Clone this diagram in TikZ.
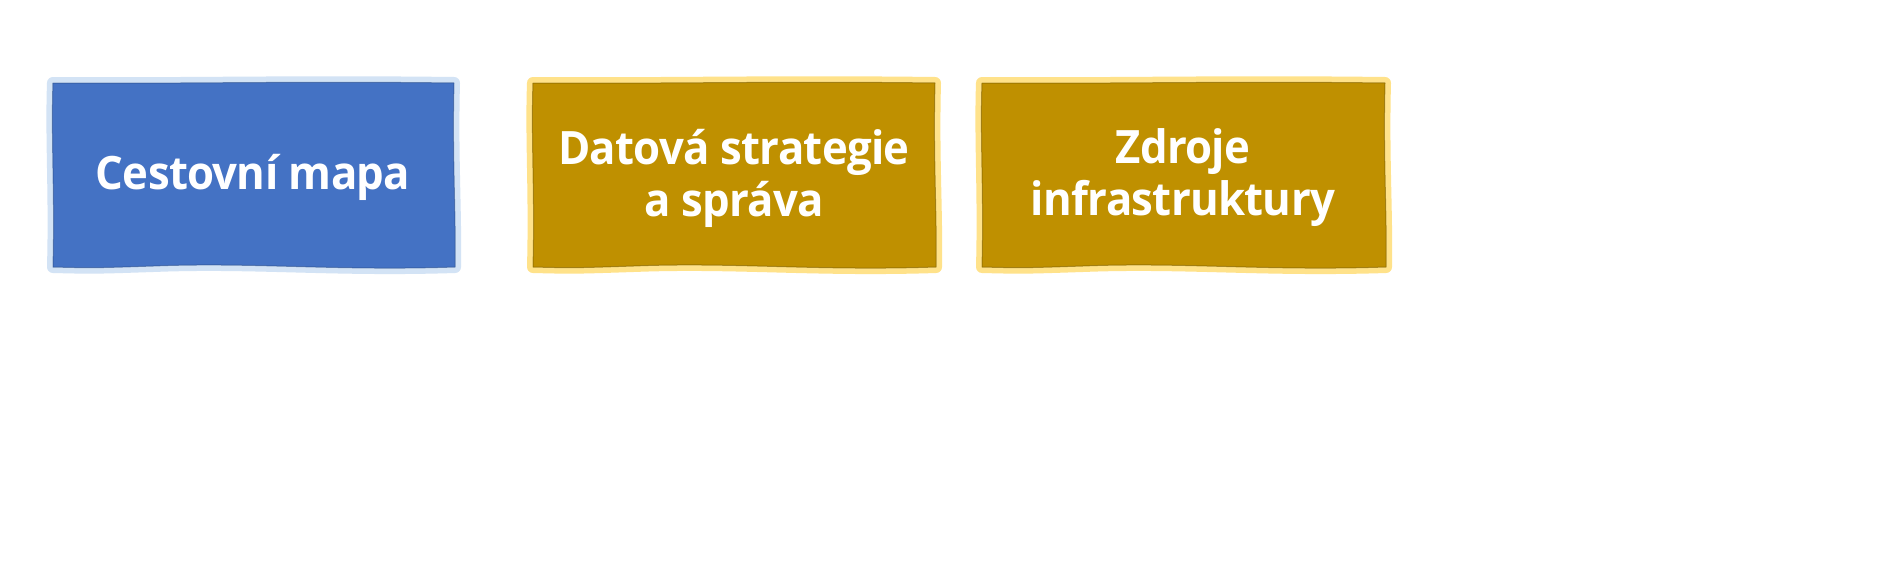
\documentclass[tikz,border=0pt]{standalone}
\usepackage{fontspec}
\setmainfont{Open Sans}[FakeStretch=0.95, LetterSpace=-1.5]
\definecolor{bluefill}{HTML}{4472C4}
\definecolor{blueedge}{HTML}{D3E3F5}
\definecolor{bluedark}{HTML}{2F528F}
\definecolor{goldfill}{HTML}{BF9000}
\definecolor{goldedge}{HTML}{FFE28A}
\definecolor{golddark}{HTML}{7F6000}
\tikzset{
  boxlabel/.style={text=white, font=\fontsize{46}{52}\selectfont\bfseries, align=center, inner sep=0pt},
}
% wavy box: #1 left, #2 top, #3 right, #4 bottom, #5 fill, #6 edge, #7 dark
\newcommand{\wavybox}[7]{%
  \path[draw=#6, line width=12pt, line join=round]
    (#1,#2) .. controls ({#1+0.33*(#3-#1)},{#2+1}) and ({#1+0.6*(#3-#1)},{#2-2}) .. (#3,#2)
    .. controls ({#3-2},{#2+0.4*(#4-#2)}) and ({#3+2},{#2+0.7*(#4-#2)}) .. ({#3+1},#4)
    .. controls ({#1+0.7*(#3-#1)},{#4+4}) and ({#1+0.5*(#3-#1)},{#4-5}) .. ({#1+0.25*(#3-#1)},{#4-1})
    .. controls ({#1+0.1*(#3-#1)},{#4+1}) .. (#1,#4)
    .. controls ({#1+2},{#2+0.6*(#4-#2)}) and ({#1-2},{#2+0.3*(#4-#2)}) .. cycle;
  \path[fill=#5, draw=#7, draw opacity=0.6, line width=1pt, line join=round]
    (#1,#2) .. controls ({#1+0.33*(#3-#1)},{#2+1}) and ({#1+0.6*(#3-#1)},{#2-2}) .. (#3,#2)
    .. controls ({#3-2},{#2+0.4*(#4-#2)}) and ({#3+2},{#2+0.7*(#4-#2)}) .. ({#3+1},#4)
    .. controls ({#1+0.7*(#3-#1)},{#4+4}) and ({#1+0.5*(#3-#1)},{#4-5}) .. ({#1+0.25*(#3-#1)},{#4-1})
    .. controls ({#1+0.1*(#3-#1)},{#4+1}) .. (#1,#4)
    .. controls ({#1+2},{#2+0.6*(#4-#2)}) and ({#1-2},{#2+0.3*(#4-#2)}) .. cycle;
}
\begin{document}
\begin{tikzpicture}[x=1pt,y=-1pt]
  \useasboundingbox[fill=white] (0,0) rectangle (1899,560);
  \wavybox{53}{83}{454}{267}{bluefill}{blueedge}{bluedark}
  \wavybox{533}{83}{935}{267}{goldfill}{goldedge}{golddark}
  \wavybox{982}{83}{1385}{267}{goldfill}{goldedge}{golddark}
  \node[boxlabel] (roadmap) at (253,177) {Cestovní mapa};
  \node[boxlabel] (datastrategy) at (734,178) {Datová strategie\\a správa};
  \node[boxlabel] (infra) at (1183,178) {Zdroje\\infrastruktury};
\end{tikzpicture}
\end{document}
